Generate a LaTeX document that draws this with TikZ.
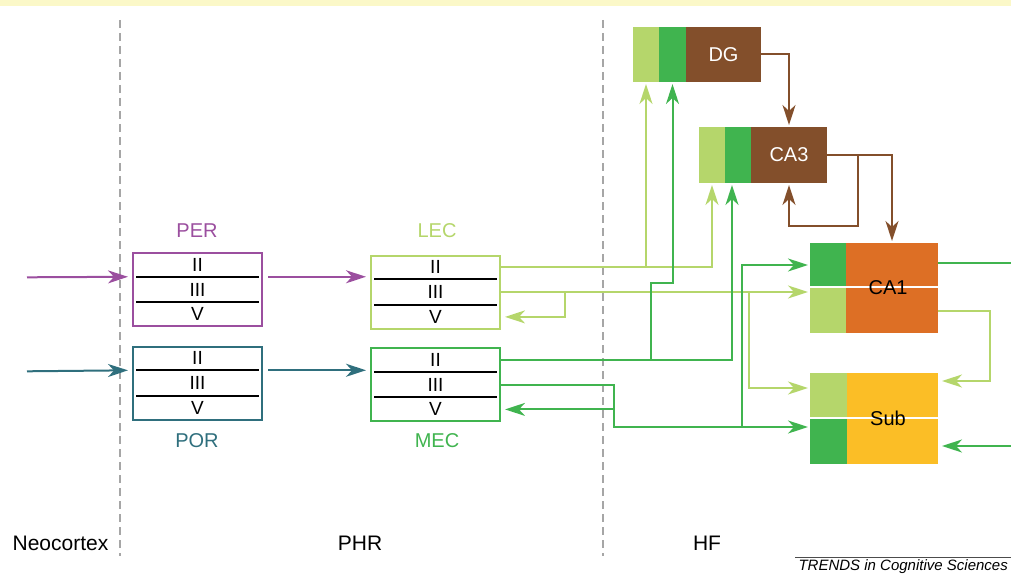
\documentclass[tikz,border=0pt]{standalone}
\usepackage{fontspec}
\setmainfont{Liberation Sans}
\usetikzlibrary{calc,arrows.meta}

\definecolor{perc}{HTML}{9B4F9F}
\definecolor{porc}{HTML}{2F6F7D}
\definecolor{lgc}{HTML}{B5D66B}
\definecolor{gc}{HTML}{40B44F}
\definecolor{brc}{HTML}{834F2B}
\definecolor{orc}{HTML}{DD6F25}
\definecolor{ylc}{HTML}{FBBE26}
\definecolor{bandc}{HTML}{FBF8C8}

\tikzset{
  ctxbox/.style={draw=#1, line width=2pt, minimum width=129pt, minimum height=73pt, inner sep=0pt},
  lamina/.style={minimum width=129pt, minimum height=24.33pt, inner sep=0pt, outer sep=0pt, font=\fontsize{19}{21}\selectfont},
  tag/.style={font=\fontsize{20}{24}\selectfont},
  region/.style={font=\fontsize{21}{24}\selectfont},
  field/.style={fill=#1, inner sep=0pt, outer sep=0pt},
  arr/.style={-{Stealth[length=20pt,width=13pt,inset=6pt]}},
  wire/.style={line width=2pt, draw=#1},
  divider/.style={dash pattern=on 8pt off 5pt, line width=1.6pt, draw=black!35},
}

\begin{document}
\begin{tikzpicture}[x=1pt,y=-1pt]
    \useasboundingbox (0,0) rectangle (1011,575);
    \fill[bandc] (0,0) rectangle (1011,6);

    \foreach \x in {120,603}
        \draw[divider] (\x,20) -- (\x,556);

    % cortical boxes
    \node[ctxbox=perc] (per) at (197.5,289.5) {};
    \node[ctxbox=porc] (por) at (197.5,383) {};
    \node[ctxbox=lgc] (lec) at (435.5,292) {};
    \node[ctxbox=gc] (mec) at (435.5,384.5) {};

    \foreach \n in {per, por, lec, mec}
        {
            \node[lamina] (\n2) at ($(\n.north)+(0,12.6)$) {II};
            \node[lamina] (\n3) at (\n) {III};
            \node[lamina] (\n5) at ($(\n.south)+(0,-12.6)$) {V};
            \draw[line width=2pt] ($(\n2.south west)+(3,0)$) -- ($(\n2.south east)+(-3,0)$);
            \draw[line width=2pt] ($(\n5.north west)+(3,0)$) -- ($(\n5.north east)+(-3,0)$);
        }

    \node[tag, text=perc] (perl) at (197,231) {PER};
    \node[tag, text=lgc] (lecl) at (437,231) {LEC};
    \node[tag, text=porc] (porl) at (197,441) {POR};
    \node[tag, text=gc] (mecl) at (437,441) {MEC};

    % hippocampal fields
    \node[field=lgc, minimum width=26pt, minimum height=55pt] (dga) at (646,54.5) {};
    \node[field=gc, minimum width=27pt, minimum height=55pt, anchor=west] (dgb) at (dga.east) {};
    \node[field=brc, minimum width=75pt, minimum height=55pt, anchor=west, text=white, tag] (dg) at (dgb.east) {DG};

    \node[field=lgc, minimum width=26pt, minimum height=56pt] (ca3a) at (712,155) {};
    \node[field=gc, minimum width=26pt, minimum height=56pt, anchor=west] (ca3b) at (ca3a.east) {};
    \node[field=brc, minimum width=76pt, minimum height=56pt, anchor=west, text=white, tag] (ca3) at (ca3b.east) {CA3};

    \node[field=gc, minimum width=36pt, minimum height=44pt] (ca1a) at (828,265) {};
    \node[field=lgc, minimum width=36pt, minimum height=46pt, anchor=north] (ca1b) at (ca1a.south) {};
    \node[field=orc, minimum width=92pt, minimum height=90pt] (ca1) at (892,288) {};
    \draw[white, line width=1.2pt] (ca1a.south west) -- (ca1a.south west -| ca1.east);
    \node[tag] (ca1t) at (888,288) {CA1};

    \node[field=lgc, minimum width=37pt, minimum height=45pt] (suba) at (828.5,395.5) {};
    \node[field=gc, minimum width=37pt, minimum height=46pt, anchor=north] (subb) at (suba.south) {};
    \node[field=ylc, minimum width=91pt, minimum height=91pt] (sub) at (892.5,418.5) {};
    \draw[white, line width=1.2pt] (suba.south west) -- (suba.south west -| sub.east);
    \node[tag] (subt) at (888,418) {Sub};

    % inputs
    \coordinate (inper) at (27,277.3);
    \coordinate (inpor) at (27,371.3);
    \draw[wire=perc, arr, shorten >=5pt] (inper) -- (per2.south west);
    \draw[wire=porc, arr, shorten >=5pt] (inpor) -- (por2.south west);
    \draw[wire=perc, arr, shorten <=6pt, shorten >=4pt] (per2.south east) -- (per2.south east -| lec.west);
    \draw[wire=porc, arr, shorten <=6pt, shorten >=4pt] (por2.south east) -- (por2.south east -| mec.west);

    % LEC projections
    \coordinate (jlv) at (565,292);
    \coordinate (jls) at (749,388);
    \draw[wire=lgc, arr, shorten >=2pt] (lec2.east) -| (ca3a.south);
    \draw[wire=lgc, arr, shorten >=2pt] (lec2.east -| dga.south) -- (dga.south);
    \draw[wire=lgc, arr, shorten >=2pt] (lec3.east) -- (lec3.east -| ca1b.west);
    \draw[wire=lgc, arr, shorten >=5pt] (lec3.east -| jlv) |- (lec5.east);
    \draw[wire=lgc, arr, shorten >=2pt] (lec3.east -| jls) |- (jls -| suba.west);

    % MEC projections
    \coordinate (jmd) at (651,283);
    \coordinate (jmc) at (732,0);
    \coordinate (jms) at (614,427);
    \coordinate (jmo) at (742,427);
    \draw[wire=gc, arr, shorten >=2pt] (mec2.east) -| (jmc |- ca3b.south);
    \draw[wire=gc, arr, shorten >=2pt] (mec2.east -| jmd) -- (jmd) -| (dgb.south);
    \draw[wire=gc, arr, shorten >=2pt] (mec3.east) -| (jms) -- (jms -| subb.west);
    \draw[wire=gc, arr, shorten >=5pt] (mec3.east -| jms) |- (mec5.east);
    \draw[wire=gc, arr, shorten >=2pt] (jmo) |- (ca1a.west);

    % trisynaptic loop
    \coordinate (jcb) at (858,226);
    \draw[wire=brc, arr, shorten >=2pt] (dg.east) -| (ca3.north);
    \draw[wire=brc, arr, shorten >=2pt] (ca3.east) -| (ca1.north);
    \draw[wire=brc, arr, shorten >=2pt] (ca3.east -| jcb) -- (jcb) -| (ca3.south);

    % CA1 and subiculum outputs
    \coordinate (outca) at (1011,263);
    \coordinate (jcs) at (990,311);
    \coordinate (insub) at (1011,446);
    \draw[wire=gc] (ca1.east |- outca) -- (outca);
    \draw[wire=lgc, arr, shorten >=4pt] (ca1.east |- jcs) -- (jcs) |- ($(sub.east)+(0,-37.5)$);
    \draw[wire=gc, arr, shorten >=4pt] (insub) -- (insub -| sub.east);

    % region names
    \node[region] (neo) at (60.5,543) {Neocortex};
    \node[region] (phr) at (360,543) {PHR};
    \node[region] (hf) at (707,543) {HF};

    \draw[line width=0.8pt, black!70] (795,557) -- (1011,557);
    \node[font=\fontsize{15}{17}\selectfont\itshape, anchor=east, inner sep=1pt] (trends) at (1009,567) {TRENDS in Cognitive Sciences};
\end{tikzpicture}
\end{document}
